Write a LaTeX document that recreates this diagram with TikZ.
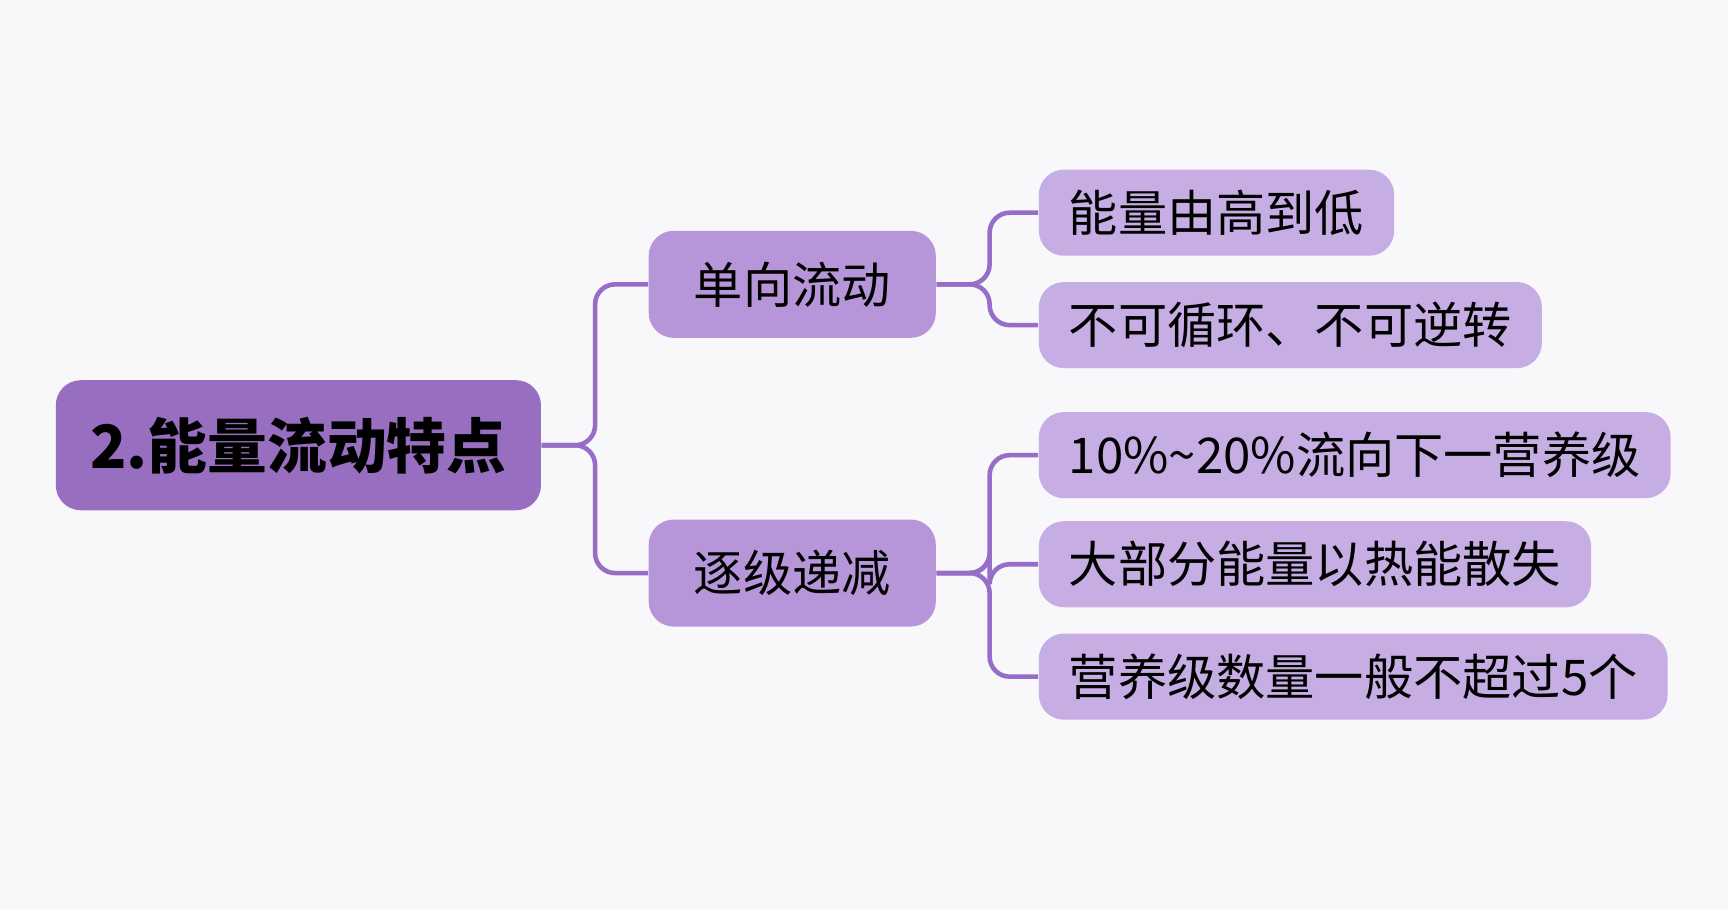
\documentclass[tikz,border=0pt]{standalone}
\usepackage{fontspec}
\setmainfont{Noto Sans CJK SC}
\usetikzlibrary{positioning}
\definecolor{bg_gray}{RGB}{248,247,250}
\definecolor{root_purple}{RGB}{152,110,192}
\definecolor{mid_purple}{RGB}{182,150,216}
\definecolor{leaf_purple}{RGB}{198,174,228}
\definecolor{edge_purple}{RGB}{150,110,200}
\begin{document}
\begin{tikzpicture}[x=0.01102cm,y=-0.01102cm]
    \tikzset{box/.style={rounded corners=0.25cm, inner xsep=0.3cm, text=black, anchor=west},
      root/.style={box, fill=root_purple, font=\fontsize{17}{20}\selectfont\bfseries, minimum height=1.3cm, text width=4.25cm, align=center},
      mid/.style={box, fill=mid_purple, font=\fontsize{14}{17}\selectfont, minimum height=1.07cm, text width=2.27cm, align=center},
      leaf/.style={box, fill=leaf_purple, font=\fontsize{14}{17}\selectfont, minimum height=0.86cm},
      link/.style={draw=edge_purple, line width=1.3pt, rounded corners=0.2cm}}
    \fill[bg_gray] (0,0) rectangle (1568,826);

    \node[root] (r) at (50,404)  {2.能量流动特点};
    \node[mid]  (a) at (588,258) {单向流动};
    \node[mid]  (b) at (588,520) {逐级递减};
    \node[leaf] (a1) at (942,193) {能量由高到低};
    \node[leaf] (a2) at (942,295) {不可循环、不可逆转};
    \node[leaf] (b1) at (942,413) {10\%\textasciitilde20\%流向下一营养级};
    \node[leaf] (b2) at (942,512) {大部分能量以热能散失};
    \node[leaf] (b3) at (942,614) {营养级数量一般不超过5个};

    \foreach \c in {a,b}
      \draw[link] (r.east) -- (540,404) |- (\c.west);
    \foreach \c in {a1,a2}
      \draw[link] (a.east) -- (898,258) |- (\c.west);
    \foreach \c in {b1,b2,b3}
      \draw[link] (b.east) -- (898,520) |- (\c.west);
\end{tikzpicture}
\end{document}
